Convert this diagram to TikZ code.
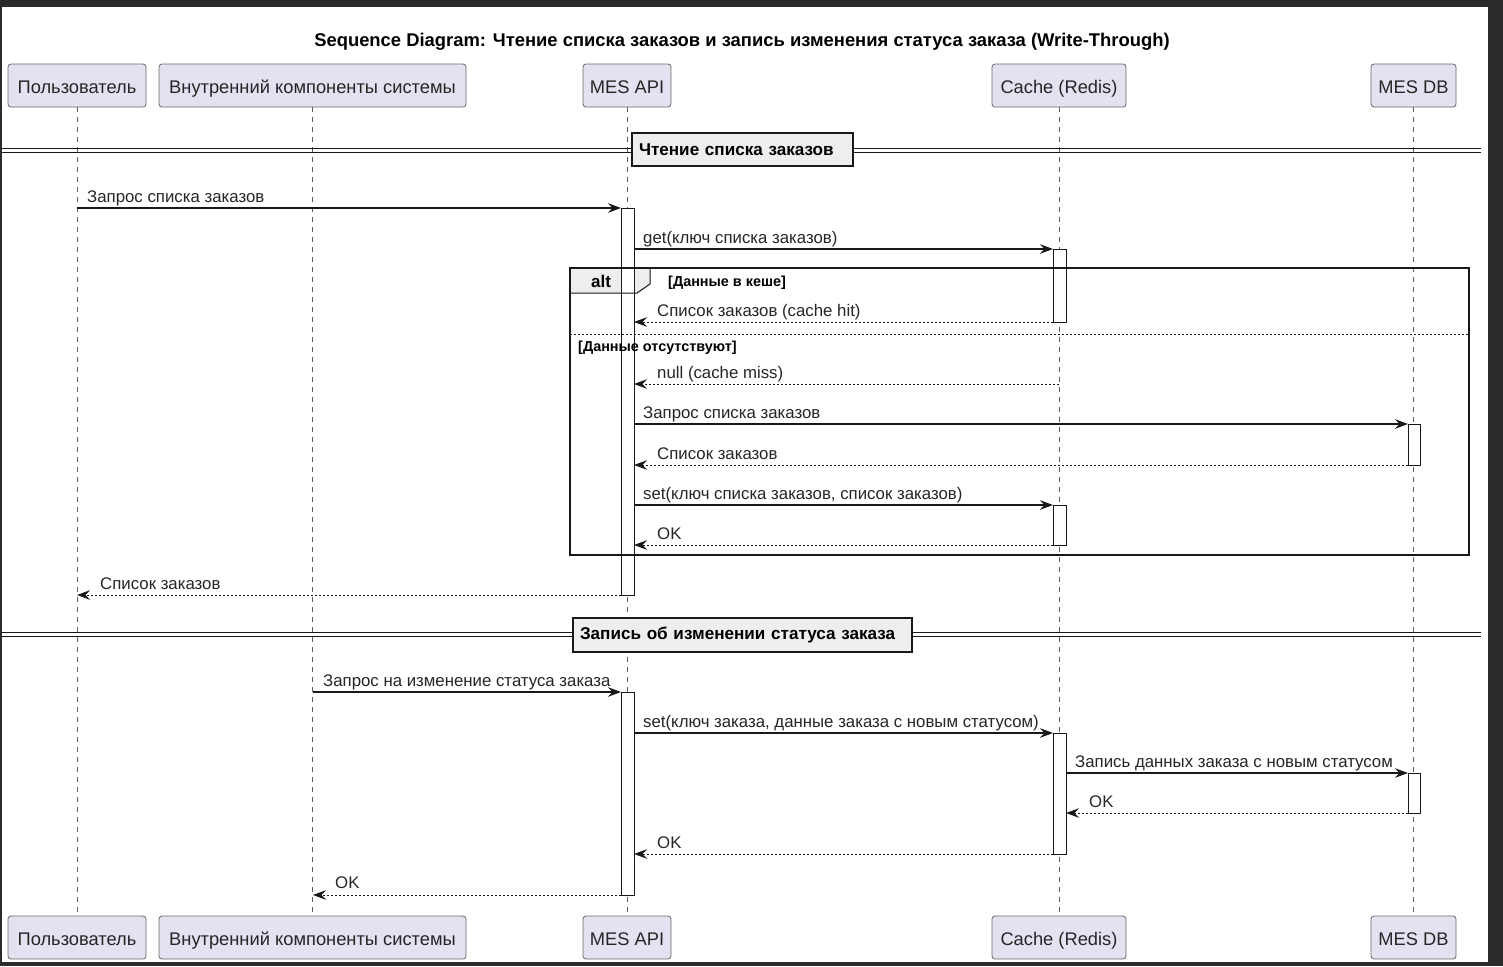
\documentclass[tikz,border=0pt]{standalone}
\usepackage{fontspec}
\setmainfont{Liberation Sans}
\usetikzlibrary{arrows.meta}
\definecolor{bgdark}{RGB}{43,43,46}
\definecolor{partfill}{RGB}{226,226,240}
\definecolor{partdraw}{RGB}{24,24,24}
\definecolor{divfill}{RGB}{238,238,238}
\begin{document}
\begin{tikzpicture}[x=1pt,y=-1pt,
  part/.style={draw=partdraw!65, fill=partfill, rounded corners=3pt, minimum height=43pt, inner sep=0pt, line width=0.8pt, text height=17pt, text depth=1.5pt, font=\fontsize{18.3}{20}\selectfont, text=black!85},
  life/.style={draw=partdraw!70, dash pattern=on 5pt off 5pt, line width=0.8pt},
  msg/.style={draw=partdraw, line width=1.1pt, -{Stealth[length=13pt,width=9.5pt,inset=4.5pt]}},
  ret/.style={msg, line width=1pt, dash pattern=on 2pt off 2pt},
  lbl/.style={anchor=base west, inner sep=0pt, font=\fontsize{16.8}{18}\selectfont, text=black!85},
  act/.style={draw=partdraw, fill=white, line width=1pt},
  divbox/.style={draw=partdraw, fill=divfill, line width=2pt, inner sep=0pt, anchor=center, font=\bfseries\fontsize{17.1}{19}\selectfont},
  dline/.style={draw=partdraw, line width=0.9pt},
  guard/.style={anchor=base west, inner sep=0pt, font=\bfseries\fontsize{14.4}{16}\selectfont},
  frm/.style={draw=partdraw, line width=1.6pt}
]
\useasboundingbox (0,0) rectangle (1503,966);
\fill[bgdark] (0,0) rectangle (1503,966);
\fill[white] (2,7) rectangle (1488,962);

% title
\node[font=\bfseries\fontsize{18.4}{20}\selectfont, inner sep=0pt, anchor=base] (title) at (742,46) {Sequence Diagram: Чтение списка заказов и запись изменения статуса заказа (Write-Through)};

% participants
\node[part, minimum width=138pt] (pT) at (77,85.5) {Пользователь};
\node[part, minimum width=307pt] (iT) at (312.5,85.5) {Внутренний компоненты системы};
\node[part, minimum width=88pt] (aT) at (627,85.5) {MES API};
\node[part, minimum width=134pt] (cT) at (1059,85.5) {Cache (Redis)};
\node[part, minimum width=85pt] (dT) at (1413.5,85.5) {MES DB};
\node[part, minimum width=138pt] (pB) at (77,937.5) {Пользователь};
\node[part, minimum width=307pt] (iB) at (312.5,937.5) {Внутренний компоненты системы};
\node[part, minimum width=88pt] (aB) at (627,937.5) {MES API};
\node[part, minimum width=134pt] (cB) at (1059,937.5) {Cache (Redis)};
\node[part, minimum width=85pt] (dB) at (1413.5,937.5) {MES DB};

% lifelines
\draw[life] (pT) -- (pB);
\draw[life] (iT) -- (iB);
\draw[life] (aT) -- (aB);
\draw[life] (cT) -- (cB);
\draw[life] (dT) -- (dB);

% dividers
\coordinate (d1l) at (2,150); \coordinate (d1r) at (1481,150);
\draw[dline] ([yshift=-2pt]d1l) -- ([yshift=-2pt]d1r);
\draw[dline] ([yshift=2pt]d1l) -- ([yshift=2pt]d1r);
\node[divbox, minimum width=221pt, minimum height=33pt, text width=207pt, align=left] (div1) at (742.5,149.5) {Чтение списка заказов};
\coordinate (d2l) at (2,634); \coordinate (d2r) at (1481,634);
\draw[dline] ([yshift=-2pt]d2l) -- ([yshift=-2pt]d2r);
\draw[dline] ([yshift=2pt]d2l) -- ([yshift=2pt]d2r);
\node[divbox, minimum width=339pt, minimum height=34pt, text width=325pt, align=left] (div2) at (742.5,635) {Запись об изменении статуса заказа};

% alt tab fill
\fill[divfill] (570,268) -- (650,268) -- (650,284) -- (637,293) -- (570,293) -- cycle;

% activations
\draw[act] (621,208) rectangle (634,595);
\draw[act] (1053,249) rectangle (1066,322);
\draw[act] (1408,424) rectangle (1420,465);
\draw[act] (1053,505) rectangle (1066,545);
\draw[act] (621,692) rectangle (634,895);
\draw[act] (1053,733) rectangle (1066,854);
\draw[act] (1408,773) rectangle (1420,813);

% alt frame
\draw[frm] (570,268) rectangle (1469,555);
\draw[partdraw, line width=1pt] (570,293) -- (637,293) -- (650,284) -- (650,268);
\draw[partdraw, line width=0.8pt, dash pattern=on 2pt off 2pt] (570,334) -- (1469,334);
\node[font=\bfseries\fontsize{17}{19}\selectfont, inner sep=0pt, anchor=base] (altlbl) at (601,287) {alt};
\node[guard] (g1) at (668,286) {[Данные в кеше]};
\node[guard] (g2) at (578,351) {[Данные отсутствуют]};

% message endpoints
\coordinate (m1a) at (77,208);   \coordinate (m1b) at (621,208);
\coordinate (m2a) at (634,249);  \coordinate (m2b) at (1053,249);
\coordinate (m3a) at (1053,322); \coordinate (m3b) at (634,322);
\coordinate (m4a) at (1059,384); \coordinate (m4b) at (634,384);
\coordinate (m5a) at (634,424);  \coordinate (m5b) at (1408,424);
\coordinate (m6a) at (1408,465); \coordinate (m6b) at (634,465);
\coordinate (m7a) at (634,505);  \coordinate (m7b) at (1053,505);
\coordinate (m8a) at (1053,545); \coordinate (m8b) at (634,545);
\coordinate (m9a) at (621,595);  \coordinate (m9b) at (77,595);
\coordinate (n1a) at (313,692);  \coordinate (n1b) at (621,692);
\coordinate (n2a) at (634,733);  \coordinate (n2b) at (1053,733);
\coordinate (n3a) at (1066,773); \coordinate (n3b) at (1408,773);
\coordinate (n4a) at (1408,813); \coordinate (n4b) at (1066,813);
\coordinate (n5a) at (1053,854); \coordinate (n5b) at (634,854);
\coordinate (n6a) at (621,895);  \coordinate (n6b) at (313,895);

\draw[msg] (m1a) -- (m1b);
\draw[msg] (m2a) -- (m2b);
\draw[ret] (m3a) -- (m3b);
\draw[ret] (m4a) -- (m4b);
\draw[msg] (m5a) -- (m5b);
\draw[ret] (m6a) -- (m6b);
\draw[msg] (m7a) -- (m7b);
\draw[ret] (m8a) -- (m8b);
\draw[ret] (m9a) -- (m9b);
\draw[msg] (n1a) -- (n1b);
\draw[msg] (n2a) -- (n2b);
\draw[msg] (n3a) -- (n3b);
\draw[ret] (n4a) -- (n4b);
\draw[ret] (n5a) -- (n5b);
\draw[ret] (n6a) -- (n6b);

% labels
\node[lbl] (l1) at (87,202) {Запрос списка заказов};
\node[lbl] (l2) at (643,243) {get(ключ списка заказов)};
\node[lbl] (l3) at (657,316) {Список заказов (cache hit)};
\node[lbl] (l4) at (657,378) {null (cache miss)};
\node[lbl] (l5) at (643,418) {Запрос списка заказов};
\node[lbl] (l6) at (657,459) {Список заказов};
\node[lbl] (l7) at (643,499) {set(ключ списка заказов, список заказов)};
\node[lbl] (l8) at (657,539) {OK};
\node[lbl] (l9) at (100,589) {Список заказов};
\node[lbl] (k1) at (323,686) {Запрос на изменение статуса заказа};
\node[lbl] (k2) at (643,727) {set(ключ заказа, данные заказа с новым статусом)};
\node[lbl] (k3) at (1075,767) {Запись данных заказа с новым статусом};
\node[lbl] (k4) at (1089,807) {OK};
\node[lbl] (k5) at (657,848) {OK};
\node[lbl] (k6) at (335,888) {OK};
\end{tikzpicture}
\end{document}
